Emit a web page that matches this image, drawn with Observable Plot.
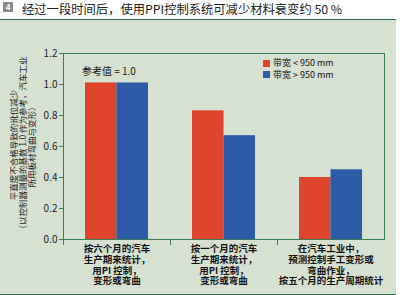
<!DOCTYPE html>
<html><head><meta charset="utf-8">
<script src="https://cdn.jsdelivr.net/npm/d3@7"></script>
<script src="https://cdn.jsdelivr.net/npm/@observablehq/plot@0.6"></script>
<style>
html,body{margin:0;padding:0;background:#fff;}
body{width:403px;height:295px;position:relative;overflow:hidden;font-family:"Noto Sans CJK SC","Noto Sans",sans-serif;}
#title{position:absolute;left:0;top:0;width:403px;height:19px;}
#icon{position:absolute;left:3px;top:2px;width:10px;height:10px;background:#8c8c8c;color:#fff;font:bold 8px "Noto Sans",sans-serif;line-height:10px;text-align:center;}
#ttext{position:absolute;left:22px;top:2px;font-size:12.3px;line-height:15px;color:#222;white-space:nowrap;}
#panel{position:absolute;left:0;top:19px;width:396px;height:274px;background:#d6e1d2;border-top:1px solid #2f6e4a;border-bottom:1px solid #2f6e4a;}
#chart{position:absolute;left:0;top:20px;}
#legend{position:absolute;left:263px;top:57px;font-size:9px;color:#111;line-height:11.5px;}
#legend div{white-space:nowrap;}
#legend span{display:inline-block;width:7px;height:7px;margin-right:3px;vertical-align:-0.5px;}
</style></head>
<body>
<div id="title"><div id="icon">4</div><div id="ttext">经过一段时间后，使用PPI控制系统可减少材料衰变约 50 %</div></div>
<div id="panel"></div>
<div id="chart"></div>
<div id="legend"></div>
<script>
const categories = [
  "按六个月的汽车\n生产期来统计，\n用PI 控制，\n变形或弯曲",
  "按一个月的汽车\n生产期来统计，\n用PI 控制，\n变形或弯曲",
  "在汽车工业中，\n预测控制手工变形或\n弯曲作业，\n按五个月的生产周期统计"
];
const seriesNames = ["带宽 < 950 mm", "带宽 > 950 mm"];
const seriesColors = ["#df432b", "#2c5ca8"];
const narrowValues = [1.01, 0.83, 0.40];
const wideValues = [1.01, 0.67, 0.45];
const yTicks = [0, 0.2, 0.4, 0.6, 0.8, 1.0, 1.2];
const yLabelLines = ["平直度不合格导致的讹位减少", "（以控制器测量的基数 1.0 作为参考，汽车工业", "所用板材弯曲与变形）"];
const refLabel = "参考值 = 1.0";
const refValue = 1.0;

const narrow = categories.map((c, i) => ({cat: c, value: narrowValues[i]}));
const wide = categories.map((c, i) => ({cat: c, value: wideValues[i]}));
const green = "#3a7d52";

const plot = Plot.plot({
  width: 403, height: 273,
  marginTop: 33, marginBottom: 54, marginLeft: 63, marginRight: 19,
  style: {background: "transparent", fontFamily: "'Noto Sans CJK SC', 'Noto Sans', sans-serif"},
  x: {domain: categories, padding: 0, label: null},
  y: {domain: [0, 1.2], label: null},
  marks: [
    Plot.barY(narrow, {x: "cat", y: "value", fill: seriesColors[0], insetLeft: 22, insetRight: 53.5}),
    Plot.barY(wide, {x: "cat", y: "value", fill: seriesColors[1], insetLeft: 53.5, insetRight: 22}),
    Plot.frame({stroke: green, strokeWidth: 1}),
    Plot.axisY({ticks: yTicks, tickFormat: d => d.toFixed(1), tickSize: 4, tickPadding: 2, stroke: green, fill: "#222", fontSize: 10, label: null}),
    Plot.axisX({tickSize: 6, text: null, stroke: green, dx: -53.5, label: null}),
    Plot.axisX({tickSize: 0, tickPadding: 5, fill: "#111", fontSize: 9.5, fontWeight: "bold", lineHeight: 1.13, label: null}),
    Plot.text([{cat: categories[0], v: refValue}], {x: "cat", y: "v", text: () => refLabel, textAnchor: "start", dx: -35, dy: -13, fontSize: 10, fill: "#111"})
  ]
});
document.getElementById("chart").appendChild(plot);

// rotated multi-line y-axis title, centred on the y scale's range
const yScale = plot.scale("y");
const yMid = (yScale.range[0] + yScale.range[1]) / 2 - 1;
const t = d3.select(plot).append("text")
  .attr("transform", `translate(14, ${yMid}) rotate(-90)`)
  .attr("text-anchor", "middle")
  .attr("font-size", 8.5)
  .attr("fill", "#222");
yLabelLines.forEach((line, i) => {
  t.append("tspan").attr("x", 0).attr("dy", i === 0 ? "0.32em" : "1.1em").text(line);
});

const legend = document.getElementById("legend");
seriesNames.forEach((n, i) => {
  const d = document.createElement("div");
  const s = document.createElement("span");
  s.style.background = seriesColors[i];
  d.appendChild(s);
  d.appendChild(document.createTextNode(n));
  legend.appendChild(d);
});
</script>
</body></html>
